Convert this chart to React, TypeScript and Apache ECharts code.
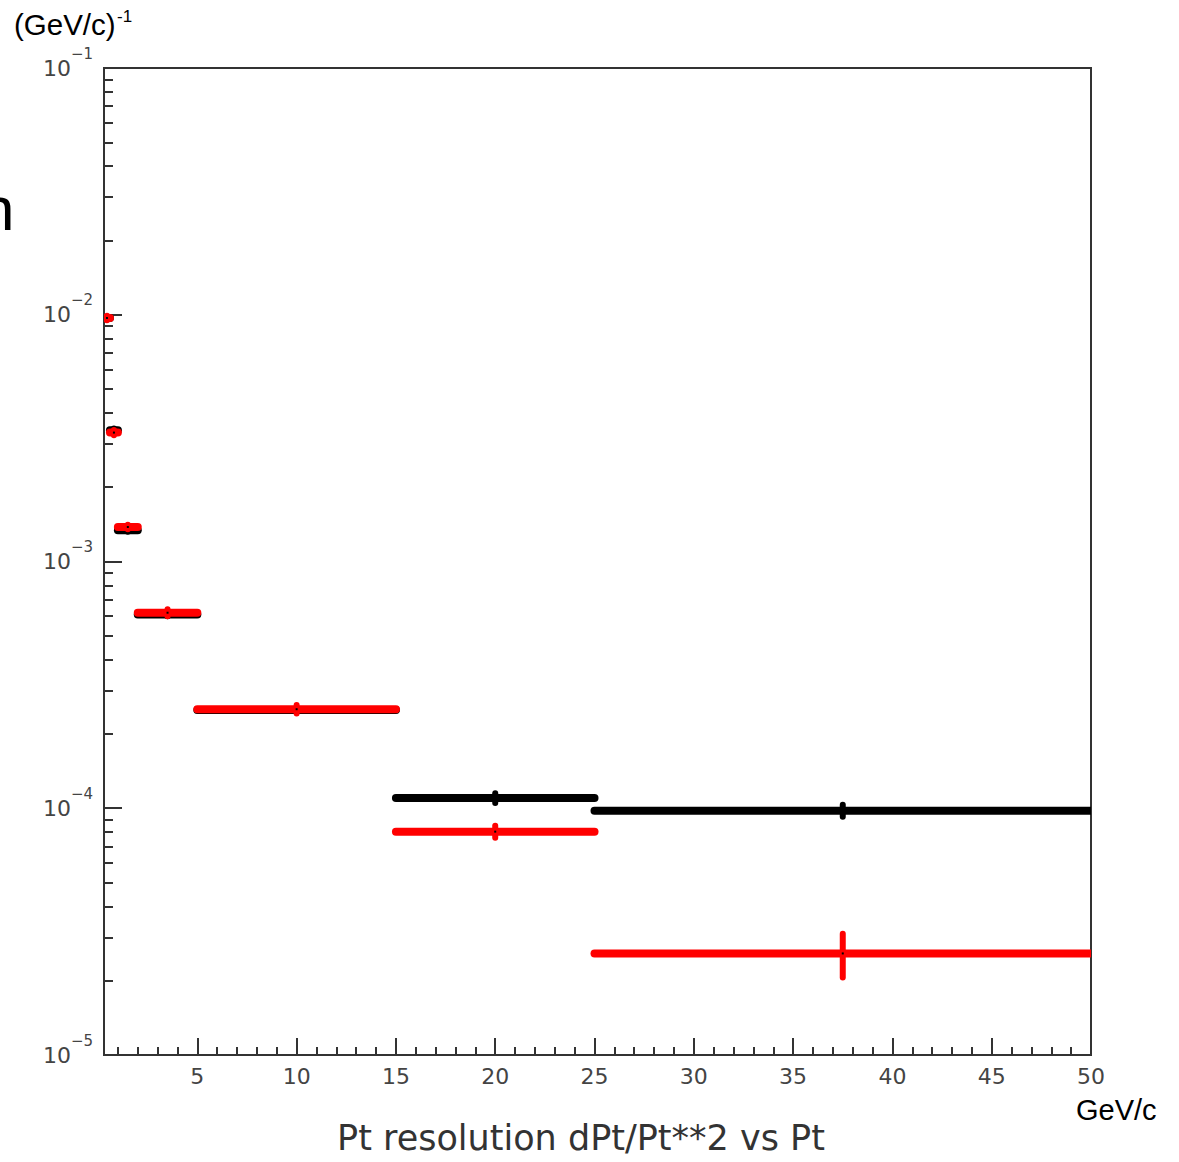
import React, { useEffect, useRef } from "react";
import * as echarts from "echarts";

// ---- data ----
const binLow = [0.3, 0.6, 1, 2, 5, 15, 25];
const binHigh = [0.6, 1, 2, 5, 15, 25, 50];
const blackValues = [0.0097, 0.0034, 0.00134, 0.00061, 0.00025, 0.00011, 0.0000978];
const blackErrors = [0.0001, 0.00006, 0.00002, 0.00001, 0.000004, 0.000005, 0.0000055];
const redValues = [0.0097, 0.00333, 0.00138, 0.00062, 0.000252, 0.0000804, 0.0000258];
const redErrors = [0.0002, 0.00008, 0.00003, 0.00002, 0.00001, 0.0000045, 0.0000052];

const xMajorTicks = [5, 10, 15, 20, 25, 30, 35, 40, 45, 50];
const xMinorTicks = [
  1, 2, 3, 4, 6, 7, 8, 9, 11, 12, 13, 14, 16, 17, 18, 19, 21, 22, 23, 24,
  26, 27, 28, 29, 31, 32, 33, 34, 36, 37, 38, 39, 41, 42, 43, 44, 46, 47, 48, 49,
];
const yMinorTicks = [
  2e-5, 3e-5, 4e-5, 5e-5, 6e-5, 7e-5, 8e-5, 9e-5,
  2e-4, 3e-4, 4e-4, 5e-4, 6e-4, 7e-4, 8e-4, 9e-4,
  2e-3, 3e-3, 4e-3, 5e-3, 6e-3, 7e-3, 8e-3, 9e-3,
  2e-2, 3e-2, 4e-2, 5e-2, 6e-2, 7e-2, 8e-2, 9e-2,
];

const xTitle = "Pt resolution dPt/Pt**2 vs Pt";
const xUnit = "GeV/c";
const yUnit = "(GeV/c)";
const yUnitSup = "-1";

const AXIS_COLOR = "#333";
const LABEL_COLOR = "#444";
const LABEL_FONT = "DejaVu Sans";

function makeRender(color: string) {
  return (params: any, api: any) => {
    const lo = api.value(0);
    const hi = api.value(1);
    const v = api.value(2);
    const e = api.value(3);
    const mid = (lo + hi) / 2;
    const p1 = api.coord([lo, v]);
    const p2 = api.coord([hi, v]);
    const c = api.coord([mid, v]);
    const top = api.coord([mid, v + e]);
    const bot = api.coord([mid, v - e]);
    return {
      type: "group",
      children: [
        {
          type: "line",
          shape: { x1: p1[0], y1: p1[1], x2: p2[0], y2: p2[1] },
          style: { stroke: color, lineWidth: 8, lineCap: "round" },
        },
        {
          type: "line",
          shape: { x1: c[0], y1: top[1], x2: c[0], y2: bot[1] },
          style: { stroke: color, lineWidth: 6, lineCap: "round" },
        },
        {
          type: "rect",
          shape: { x: c[0] - 1, y: c[1] - 1, width: 2, height: 2 },
          style: { fill: "#000" },
        },
      ],
    };
  };
}

export default function App() {
  const ref = useRef<HTMLDivElement>(null);

  useEffect(() => {
    if (!ref.current) return;
    const chart = echarts.init(ref.current, undefined, { renderer: "svg" });

    const blackData = binLow.map((lo, i) => [lo, binHigh[i], blackValues[i], blackErrors[i]]);
    const redData = binLow.map((lo, i) => [lo, binHigh[i], redValues[i], redErrors[i]]);

    chart.setOption({
      animation: false,
      backgroundColor: "#fff",
      grid: {
        left: 104,
        top: 68,
        right: 88,
        bottom: 107,
        show: true,
        borderColor: AXIS_COLOR,
        borderWidth: 2,
        backgroundColor: "transparent",
      },
      xAxis: [
        {
          type: "value",
          min: 0.3,
          max: 50,
          position: "bottom",
          axisLine: { show: true, lineStyle: { color: AXIS_COLOR, width: 2 } },
          axisTick: {
            show: true,
            inside: true,
            length: 17,
            customValues: xMajorTicks,
            lineStyle: { color: AXIS_COLOR, width: 2 },
          },
          axisLabel: {
            show: true,
            customValues: xMajorTicks,
            margin: 10,
            fontFamily: LABEL_FONT,
            fontSize: 22,
            color: LABEL_COLOR,
          },
          splitLine: { show: false },
        },
        {
          type: "value",
          min: 0.3,
          max: 50,
          position: "bottom",
          offset: 0,
          axisLine: { show: false },
          axisTick: {
            show: true,
            inside: true,
            length: 8,
            customValues: xMinorTicks,
            lineStyle: { color: AXIS_COLOR, width: 2 },
          },
          axisLabel: { show: false },
          splitLine: { show: false },
        },
      ],
      yAxis: [
        {
          type: "log",
          logBase: 10,
          min: 1e-5,
          max: 1e-1,
          position: "left",
          axisLine: { show: true, lineStyle: { color: AXIS_COLOR, width: 2 } },
          axisTick: {
            show: true,
            inside: true,
            length: 18,
            lineStyle: { color: AXIS_COLOR, width: 2 },
          },
          axisLabel: {
            show: true,
            margin: 11,
            formatter: (value: number) => {
              const exp = Math.round(Math.log10(value));
              return "{b|10}{s|\u2212" + Math.abs(exp) + "}";
            },
            rich: {
              b: { fontFamily: LABEL_FONT, fontSize: 22, color: LABEL_COLOR },
              s: {
                fontFamily: LABEL_FONT,
                fontSize: 15,
                color: LABEL_COLOR,
                padding: [0, 0, 29, 0],
              },
            },
          },
          splitLine: { show: false },
        },
        {
          type: "log",
          logBase: 10,
          min: 1e-5,
          max: 1e-1,
          position: "left",
          offset: 0,
          axisLine: { show: false },
          axisTick: {
            show: true,
            inside: true,
            length: 9,
            customValues: yMinorTicks,
            lineStyle: { color: AXIS_COLOR, width: 2 },
          },
          axisLabel: { show: false },
          splitLine: { show: false },
        },
      ],
      series: [
        {
          type: "custom",
          name: "black",
          xAxisIndex: 0,
          yAxisIndex: 0,
          renderItem: makeRender("#000"),
          encode: { x: [0, 1], y: 2 },
          data: blackData,
          clip: true,
          z: 2,
        },
        {
          type: "custom",
          name: "red",
          xAxisIndex: 0,
          yAxisIndex: 0,
          renderItem: makeRender("#ff0000"),
          encode: { x: [0, 1], y: 2 },
          data: redData,
          clip: true,
          z: 3,
        },
      ],
      graphic: [
        {
          type: "text",
          style: {
            text: xTitle,
            x: 581,
            y: 1138,
            fontFamily: LABEL_FONT,
            fontSize: 35,
            fill: "#333",
            align: "center",
            verticalAlign: "middle",
          },
        },
        {
          type: "text",
          style: {
            text: xUnit,
            x: 1076,
            y: 1110,
            fontFamily: "Liberation Sans",
            fontSize: 29,
            fill: "#000",
            align: "left",
            verticalAlign: "middle",
          },
        },
        {
          type: "text",
          style: {
            text: yUnit,
            x: 14,
            y: 24.5,
            fontFamily: "Liberation Sans",
            fontSize: 29.5,
            fill: "#000",
            align: "left",
            verticalAlign: "middle",
          },
        },
        {
          type: "text",
          style: {
            text: yUnitSup,
            x: 117,
            y: 16,
            fontFamily: "Liberation Sans",
            fontSize: 17,
            fill: "#000",
            align: "left",
            verticalAlign: "middle",
          },
        },
        {
          type: "text",
          style: {
            text: "n",
            x: -20,
            y: 208,
            fontFamily: "Liberation Sans",
            fontSize: 62,
            fill: "#000",
            align: "left",
            verticalAlign: "middle",
          },
        },
      ],
    });

    return () => {
      chart.dispose();
    };
  }, []);

  return (
    <div
      ref={ref}
      style={{ position: "absolute", left: 0, top: 0, width: 1179, height: 1162 }}
    />
  );
}
